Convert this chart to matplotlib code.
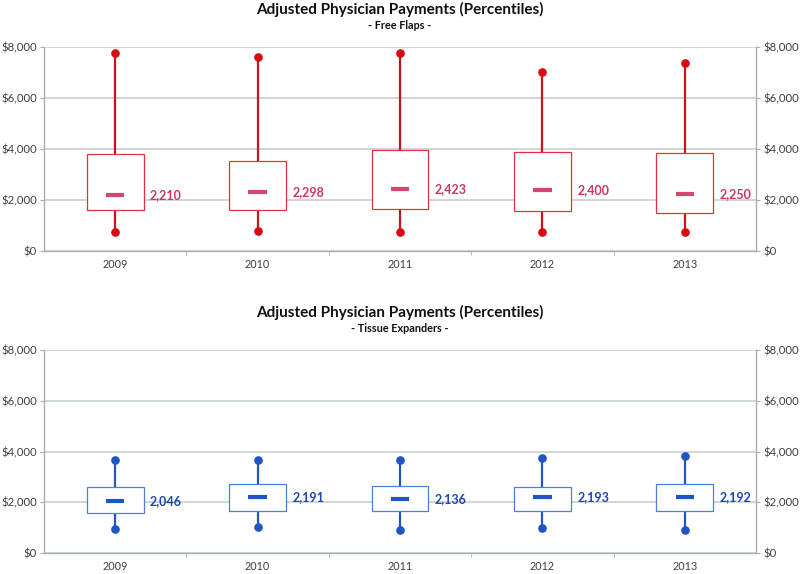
import matplotlib
matplotlib.use("Agg")
import matplotlib.pyplot as plt
from matplotlib.ticker import FuncFormatter, FixedLocator

plt.rcParams['font.family'] = ['Lato', 'DejaVu Sans']

years = ["2009", "2010", "2011", "2012", "2013"]

# Free Flaps
ff_low = [745, 784, 745, 745, 745]
ff_q1 = [1608, 1608, 1634, 1569, 1478]
ff_median = [2210, 2298, 2423, 2400, 2250]
ff_q3 = [3816, 3541, 3960, 3895, 3856]
ff_high = [7776, 7620, 7776, 7020, 7384]

# Tissue Expanders
te_low = [933, 1012, 909, 972, 909]
te_q1 = [1593, 1660, 1644, 1660, 1660]
te_median = [2046, 2191, 2136, 2193, 2192]
te_q3 = [2593, 2700, 2648, 2620, 2700]
te_high = [3648, 3676, 3648, 3727, 3834]

yticks = [0, 2000, 4000, 6000, 8000]

fig = plt.figure(figsize=(8, 5.74), dpi=100)
ax1 = fig.add_axes([0.055, 0.5627, 0.89, 0.3555])
ax2 = fig.add_axes([0.055, 0.0366, 0.89, 0.3536])

grid_c = "#c3cbcb"
spine_c = "#a9b0b0"
tick_c = "#404040"


def draw(ax, low, q1, med, q3, high, whisk_c, dot_c, box_c, med_c, lab_c,
         title, subtitle):
    x = list(range(len(years)))
    ax.set_xlim(-0.5, len(years) - 0.5)
    ax.set_ylim(0, 8000)
    ax.vlines(x, low, high, color=whisk_c, lw=1.6, zorder=2)
    ax.plot(x, low, 'o', color=dot_c, ms=5.2, zorder=3)
    ax.plot(x, high, 'o', color=dot_c, ms=5.2, zorder=3)
    heights = [b - a for a, b in zip(q1, q3)]
    ax.bar(x, heights, bottom=q1, width=0.4, color="white",
           edgecolor=box_c, linewidth=0.9, zorder=4)
    ax.hlines(med, [i - 0.064 for i in x], [i + 0.064 for i in x],
              color=med_c, lw=3, zorder=5)
    for i, m in zip(x, med):
        ax.text(i + 0.245, m, f"{m:,}", color=lab_c, fontsize=9,
                fontweight='bold', va='center', ha='left', zorder=6)
    ax.set_yticks(yticks)
    ax.yaxis.set_major_formatter(FuncFormatter(lambda v, p: f"${int(v):,}"))
    ax.set_xticks(x)
    ax.set_xticklabels(years)
    ax.xaxis.set_minor_locator(FixedLocator([i + 0.5 for i in x[:-1]]))
    ax.tick_params(axis='x', which='major', length=0, pad=6,
                   labelsize=7.8, labelcolor=tick_c)
    ax.tick_params(axis='x', which='minor', length=3, color=spine_c,
                   direction='out')
    ax.tick_params(axis='y', which='major', length=3, color=spine_c,
                   labelsize=8.2, labelcolor=tick_c, left=True, right=True,
                   labelleft=True, labelright=True, pad=2)
    ax.grid(axis='y', color=grid_c, lw=1.1, zorder=0)
    ax.set_axisbelow(True)
    for s in ['left', 'right', 'bottom']:
        ax.spines[s].set_color(spine_c)
        ax.spines[s].set_linewidth(1.0)
    ax.spines['top'].set_visible(False)
    ax.text(0.5, 1.185, title, transform=ax.transAxes, ha='center',
            va='center', fontsize=11, fontweight='bold', color="#111111")
    ax.text(0.5, 1.104, subtitle, transform=ax.transAxes, ha='center',
            va='center', fontsize=7.8, fontweight='bold', color="#111111")


draw(ax1, ff_low, ff_q1, ff_median, ff_q3, ff_high,
     "#c81420", "#d60a10", "#e8303c", "#d5476b", "#c9385f",
     "Adjusted Physician Payments (Percentiles)", "- Free Flaps -")
draw(ax2, te_low, te_q1, te_median, te_q3, te_high,
     "#2456c0", "#1f55c2", "#4a80d8", "#1b56c6", "#1f48aa",
     "Adjusted Physician Payments (Percentiles)", "- Tissue Expanders -")

fig.savefig("out.png", dpi=100)
